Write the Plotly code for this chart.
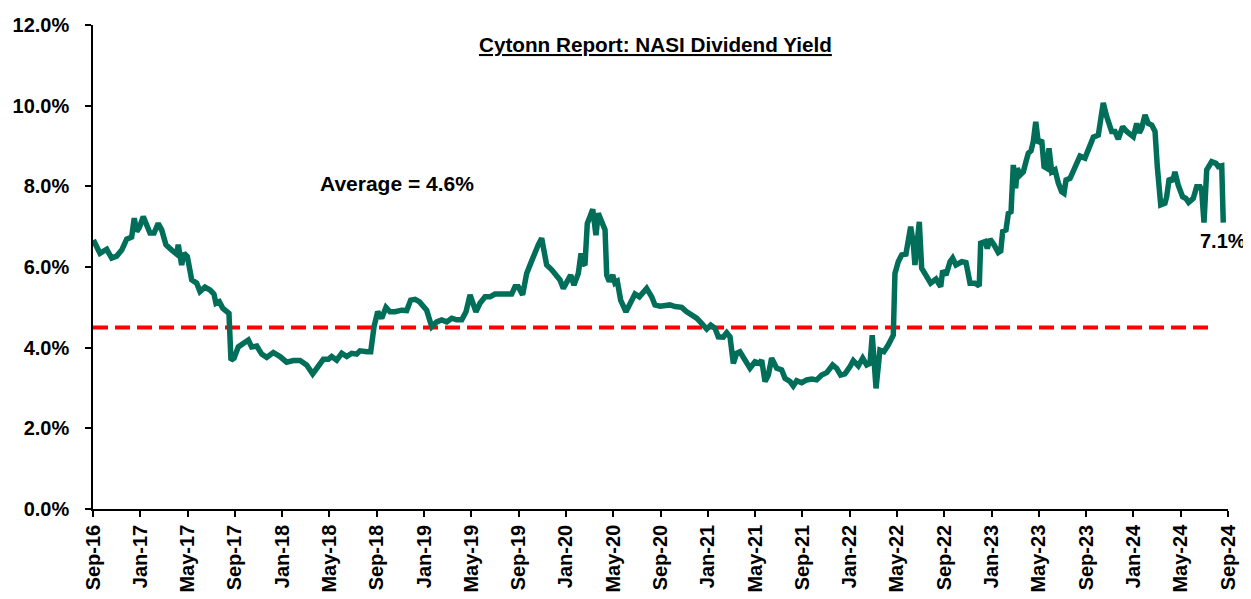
import plotly.graph_objects as go

# Month offsets from Sep-2016 and dividend yield (%)
months = [
    0.03, 0.59, 1.16, 1.58, 2.00, 2.43, 2.85, 3.27, 3.49, 3.70, 3.92, 4.25, 4.54, 4.82, 5.16, 5.52,
    5.81, 6.17, 6.66, 7.08, 7.21, 7.50, 7.70, 7.98, 8.35, 8.77, 9.05, 9.47, 9.90, 10.23, 10.40, 10.68,
    10.97, 11.31, 11.50, 11.67, 11.93, 12.29, 12.71, 13.14, 13.42, 13.85, 14.27, 14.69, 15.25, 15.82,
    16.38, 16.94, 17.51, 18.07, 18.58, 18.97, 19.48, 19.90, 20.19, 20.61, 21.04, 21.46, 21.88, 22.30,
    22.58, 23.15, 23.49, 23.77, 24.08, 24.42, 24.78, 25.12, 25.54, 26.11, 26.53, 26.87, 27.24, 27.60,
    27.94, 28.22, 28.65, 29.07, 29.49, 29.92, 30.34, 30.76, 31.19, 31.55, 31.89, 32.17, 32.39, 32.73,
    33.16, 33.58, 34.00, 34.70, 35.41, 35.69, 35.97, 36.34, 36.68, 37.02, 37.38, 37.66, 37.95, 38.15,
    38.37, 38.80, 39.22, 39.50, 39.78, 40.07, 40.40, 40.68, 41.05, 41.28, 41.42, 41.61, 41.81, 42.04,
    42.27, 42.54, 42.74, 43.03, 43.31, 43.45, 43.67, 43.96, 44.15, 44.35, 44.63, 45.08, 45.42, 45.84,
    46.21, 46.83, 47.26, 47.53, 47.96, 48.80, 49.23, 49.79, 50.22, 50.64, 51.06, 51.48, 51.91, 52.25,
    52.61, 52.89, 53.31, 53.60, 53.88, 54.16, 54.44, 54.72, 55.15, 55.57, 55.99, 56.36, 56.56, 56.84,
    57.12, 57.40, 57.83, 58.25, 58.53, 58.96, 59.23, 59.52, 59.94, 60.37, 60.79, 61.21, 61.63, 62.06,
    62.56, 62.90, 63.24, 63.60, 64.03, 64.31, 64.73, 65.10, 65.44, 65.72, 65.91, 66.08, 66.23, 66.56,
    66.90, 67.27, 67.69, 67.83, 68.11, 68.40, 68.76, 69.16, 69.38, 69.52, 69.89, 70.09, 70.46, 70.85,
    71.30, 71.70, 71.87, 72.15, 72.49, 72.71, 72.99, 73.48, 73.84, 74.18, 74.60, 74.96, 75.08, 75.45,
    75.64, 75.87, 76.21, 76.57, 76.78, 76.94, 77.22, 77.42, 77.65, 77.84, 78.04, 78.18, 78.41, 78.69,
    78.91, 79.11, 79.34, 79.53, 79.74, 79.96, 80.24, 80.44, 80.66, 80.86, 81.09, 81.37, 81.65, 81.93,
    82.13, 82.30, 82.64, 82.92, 83.20, 83.48, 83.90, 84.27, 84.61, 85.03, 85.26, 85.45, 85.74, 86.16,
    86.44, 86.72, 87.09, 87.43, 87.99, 88.28, 88.50, 88.70, 88.98, 89.26, 89.55, 89.83, 90.02, 90.31,
    90.67, 90.81, 91.03, 91.32, 91.51, 91.79, 92.16, 92.44, 92.67, 93.06, 93.35, 93.63, 93.77, 93.97,
    94.20, 94.62, 94.98, 95.18, 95.47, 95.60,
]
dividend_yield = [
    6.67, 6.34, 6.44, 6.22, 6.27, 6.42, 6.69, 6.74, 7.21, 6.88, 6.98, 7.25, 7.04, 6.84, 6.84, 7.08,
    6.92, 6.55, 6.42, 6.32, 6.55, 6.05, 6.34, 6.26, 5.68, 5.60, 5.39, 5.50, 5.43, 5.33, 5.10, 5.14,
    4.98, 4.89, 4.85, 3.69, 3.74, 4.02, 4.09, 4.19, 4.02, 4.04, 3.84, 3.76, 3.88, 3.78,
    3.64, 3.68, 3.68, 3.57, 3.35, 3.49, 3.71, 3.71, 3.78, 3.69, 3.86, 3.78, 3.86, 3.84,
    3.92, 3.90, 3.90, 4.52, 4.89, 4.73, 5.00, 4.89, 4.89, 4.93, 4.92, 5.18, 5.20, 5.14,
    5.03, 4.93, 4.52, 4.64, 4.69, 4.64, 4.73, 4.69, 4.69, 4.89, 5.31, 5.06, 4.89, 5.10,
    5.26, 5.26, 5.33, 5.33, 5.33, 5.51, 5.51, 5.31, 5.84, 6.09, 6.38, 6.55, 6.71, 6.34,
    6.05, 5.93, 5.80, 5.68, 5.47, 5.64, 5.80, 5.55, 5.84, 6.34, 6.09, 6.05, 7.08, 7.25,
    7.43, 6.79, 7.33, 7.12, 6.92, 5.80, 5.64, 5.80, 5.60, 5.64, 5.18, 4.89, 5.10, 5.33,
    5.26, 5.47, 5.26, 5.06, 5.03, 5.06, 5.02, 5.00, 4.89, 4.81, 4.73, 4.60, 4.46, 4.56,
    4.48, 4.27, 4.26, 4.37, 4.27, 3.61, 3.86, 3.90, 3.69, 3.49, 3.65, 3.61, 3.69, 3.16,
    3.32, 3.74, 3.49, 3.45, 3.24, 3.16, 3.05, 3.18, 3.13, 3.20, 3.22, 3.20, 3.32, 3.38,
    3.57, 3.49, 3.32, 3.35, 3.53, 3.68, 3.55, 3.74, 3.57, 3.61, 4.31, 3.78, 2.99, 3.94,
    3.90, 4.07, 4.31, 5.84, 6.13, 6.30, 6.32, 7.00, 6.59, 6.05, 7.12, 5.97, 5.80, 5.60,
    5.70, 5.51, 5.91, 5.80, 6.13, 6.22, 6.05, 6.13, 6.11, 5.60, 5.60, 5.53, 6.59, 6.63,
    6.46, 6.69, 6.55, 6.36, 6.40, 6.88, 6.92, 7.33, 7.37, 8.53, 7.95, 8.45, 8.28, 8.36,
    8.61, 8.82, 8.88, 9.11, 9.60, 9.07, 9.15, 8.49, 8.45, 8.94, 8.36, 8.41, 8.08, 7.87,
    7.83, 8.16, 8.20, 8.39, 8.61, 8.75, 8.70, 8.98, 9.22, 9.27, 9.73, 10.07, 9.73, 9.36,
    9.36, 9.17, 9.48, 9.36, 9.23, 9.56, 9.33, 9.44, 9.77, 9.56, 9.52, 9.36, 8.49, 7.54,
    7.58, 7.74, 8.20, 8.12, 8.36, 8.03, 7.74, 7.70, 7.60, 7.70, 7.99, 7.99, 7.91, 7.10,
    8.41, 8.61, 8.57, 8.49, 8.51, 7.10,
]

# Average reference line (drawn level and its extent) and label value
avg_line_months = [0.0, 94.7]
avg_line_level = [4.5, 4.5]
avg_label_value = 4.6

# Axis ticks
x_tick_months = [0, 4, 8, 12, 16, 20, 24, 28, 32, 36, 40, 44, 48, 52, 56, 60, 64, 68, 72, 76, 80, 84, 88, 92, 96]
x_tick_labels = [
    "Sep-16", "Jan-17", "May-17", "Sep-17", "Jan-18", "May-18", "Sep-18", "Jan-19", "May-19",
    "Sep-19", "Jan-20", "May-20", "Sep-20", "Jan-21", "May-21", "Sep-21", "Jan-22", "May-22",
    "Sep-22", "Jan-23", "May-23", "Sep-23", "Jan-24", "May-24", "Sep-24",
]
y_tick_values = [0, 2, 4, 6, 8, 10, 12]

FONT = "Liberation Sans, Arial, sans-serif"
GREEN = "#006E58"

fig = go.Figure()
fig.add_trace(go.Scatter(
    x=avg_line_months, y=avg_line_level, mode="lines",
    line=dict(color="#FF0000", width=4, dash="15px,7px"),
    hoverinfo="skip", showlegend=False,
))
fig.add_trace(go.Scatter(
    x=months, y=dividend_yield, mode="lines",
    line=dict(color=GREEN, width=5.5),
    showlegend=False,
))

fig.add_annotation(
    x=25.75, y=8.08, xref="x", yref="y",
    text=f"<b>Average = {avg_label_value:.1f}%</b>", showarrow=False,
    font=dict(family=FONT, size=21, color="#000000"),
)
fig.add_annotation(
    x=months[-1], y=dividend_yield[-1], xref="x", yref="y",
    text=f"<b>{dividend_yield[-1]:.1f}%</b>", showarrow=False,
    yshift=-18, xshift=0,
    font=dict(family=FONT, size=20, color="#000000"),
)
fig.add_annotation(
    x=0.496, y=0.988, xref="paper", yref="paper",
    text="<b><u>Cytonn Report: NASI Dividend Yield</u></b>", showarrow=False,
    font=dict(family=FONT, size=20.7, color="#000000"),
)

# The page adds an 8px body margin, so the figure is sized to fit the window.
fig.update_layout(
    width=1243, height=591,
    margin=dict(l=85, r=23, t=17, b=90, autoexpand=False),
    paper_bgcolor="white", plot_bgcolor="white",
    font=dict(family=FONT, color="#000000"),
    showlegend=False,
)
fig.update_xaxes(
    range=[0, 96], tickmode="array", tickvals=x_tick_months, ticktext=x_tick_labels,
    tickangle=-90, ticks="outside", ticklen=6, tickwidth=1.5, tickcolor="#000000",
    showline=True, linecolor="#000000", linewidth=1.5, showgrid=False, zeroline=False,
    automargin=False,
    tickfont=dict(family=FONT, size=20, color="#000000", weight="bold"),
)
fig.update_yaxes(
    range=[0, 12], tickmode="array", tickvals=y_tick_values,
    ticktext=[f"{v:.1f}%" for v in y_tick_values],
    ticks="outside", ticklen=6, tickwidth=1.5, tickcolor="#000000",
    showline=True, linecolor="#000000", linewidth=1.5, showgrid=False, zeroline=False,
    automargin=False, ticklabelstandoff=12,
    tickfont=dict(family=FONT, size=20, color="#000000", weight="bold"),
)

fig.write_html("out.html")
